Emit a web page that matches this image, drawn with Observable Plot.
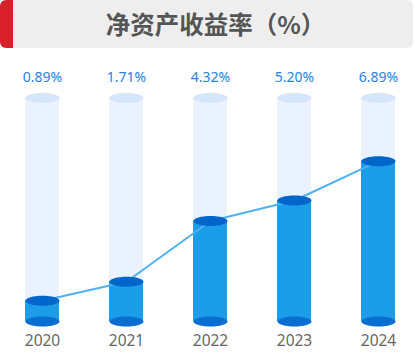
<!DOCTYPE html>
<html>
<head>
<meta charset="utf-8">
<script src="https://cdn.jsdelivr.net/npm/d3@7"></script>
<script src="https://cdn.jsdelivr.net/npm/@observablehq/plot@0.6"></script>
<style>
  html, body { margin: 0; padding: 0; background: #fff; }
  #header { position: relative; width: 413px; height: 48px; background: #eeeeee; border-radius: 6px; overflow: hidden; }
  #header .accent { position: absolute; left: 0; top: 0; width: 13px; height: 48px; background: #d7202a; }
  #header .title { position: absolute; left: 0; right: 0; top: 0; height: 48px; line-height: 48px; text-align: center;
    font-family: "Noto Sans CJK SC", sans-serif; font-weight: bold; font-size: 24.5px; color: #555; padding-left: 18px; }
  #chart svg { display: block; }
</style>
</head>
<body>
<div id="header"><div class="accent"></div><div class="title">净资产收益率（%）</div></div>
<div id="chart"></div>
<script>
const years = ["2020", "2021", "2022", "2023", "2024"];
const values = [0.89, 1.71, 4.32, 5.20, 6.89];
const labels = ["0.89%", "1.71%", "4.32%", "5.20%", "6.89%"];
const backgroundMax = 9.6;

const data = years.map((y, i) => ({year: y, value: values[i], label: labels[i], bg: backgroundMax}));

// ellipse symbol: horizontal radius = r, vertical radius = 5
const ellipse = {
  draw(context, size) {
    const rx = Math.sqrt(size / Math.PI);
    const ry = 5;
    const k = 0.5522848;
    context.moveTo(rx, 0);
    context.bezierCurveTo(rx, ry * k, rx * k, ry, 0, ry);
    context.bezierCurveTo(-rx * k, ry, -rx, ry * k, -rx, 0);
    context.bezierCurveTo(-rx, -ry * k, -rx * k, -ry, 0, -ry);
    context.bezierCurveTo(rx * k, -ry, rx, -ry * k, rx, 0);
    context.closePath();
  }
};

const chart = Plot.plot({
  width: 415,
  height: 305,
  marginTop: 40.3,
  marginBottom: 32,
  marginLeft: 0,
  marginRight: 0,
  style: {fontFamily: "'Noto Sans', sans-serif", background: "transparent"},
  x: {type: "band", domain: years, range: [-1.25, 421.25], paddingInner: 1 - 34 / 84.5, paddingOuter: (1 - 34 / 84.5) / 2, axis: null},
  y: {domain: [0, 10], axis: null},
  marks: [
    Plot.barY(data, {x: "year", y: "bg", fill: "#eaf2fd"}),
    Plot.dot(data, {x: "year", y: "bg", r: 17, symbol: ellipse, fill: "#d6e6fa", stroke: null}),
    Plot.barY(data, {x: "year", y: "value", fill: "#1c9de9"}),
    Plot.dot(data, {x: "year", y: 0, r: 17, symbol: ellipse, fill: "#0a6ed0", stroke: null}),
    Plot.line(data, {x: "year", y: "value", stroke: "#4db2ef", strokeWidth: 2}),
    Plot.dot(data, {x: "year", y: "value", r: 17, symbol: ellipse, fill: "#0066cc", stroke: null}),
    Plot.text(data, {x: "year", text: "label", frameAnchor: "top", dy: -16.5, fill: "#2b7fe0", fontSize: 14}),
    Plot.text(data, {x: "year", text: "year", frameAnchor: "bottom", dy: 24, fill: "#666", fontSize: 15.5})
  ]
});
document.getElementById("chart").appendChild(chart);
</script>
</body>
</html>
